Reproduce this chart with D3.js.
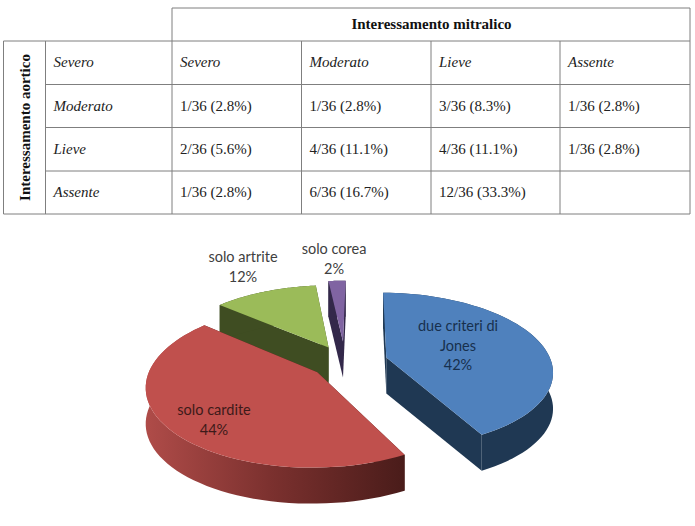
<!DOCTYPE html>
<html lang="it">
<head>
<meta charset="UTF-8">
<title>Interessamento valvolare</title>
<script src="https://d3js.org/d3.v7.min.js"></script>
<style>
    html, body { margin: 0; padding: 0; background: #fff; }
    svg { display: block; }
    .cell { font-family: "Liberation Serif", serif; font-size: 15px; fill: #222; }
    .head { font-weight: bold; fill: #111; }
    .ital { font-style: italic; }
    .pielabel { font-family: Lato, "Noto Sans", sans-serif; font-size: 14.5px; text-anchor: middle; }
</style>
</head>
<body>
<svg id="chart" width="695" height="526"></svg>
<script>
// table
var rowLabels = ["Severo", "Moderato", "Lieve", "Assente"];
var tableRows = [
    ["Severo", "Moderato", "Lieve", "Assente"],
    ["1/36 (2.8%)", "1/36 (2.8%)", "3/36 (8.3%)", "1/36 (2.8%)"],
    ["2/36 (5.6%)", "4/36 (11.1%)", "4/36 (11.1%)", "1/36 (2.8%)"],
    ["1/36 (2.8%)", "6/36 (16.7%)", "12/36 (33.3%)", ""]
];
var colEdges = [3.5, 45.5, 172, 301.5, 431, 560, 690];
var rowEdges = [8, 41, 84.5, 127.5, 171, 214];

// pie
var pieNames = [["due criteri di", "Jones"], ["solo cardite"], ["solo artrite"], ["solo corea"]];
var pieValues = [42, 44, 12, 2];
var pieExplode = [0.26, 0.21, 0.22, 0.28];
var pieTop = ["#4f81bd", "#c0504d", "#9bbb59", "#8064a2"];
var pieSide = ["#1f3853", "#4a1c1a", "#3f4d22", "#33284a"];
var pieText = ["#17304d", "#3d1a19", "#404040", "#404040"];
var labelPos = [[458, 326], [214, 410], [243, 257], [334, 249]];

var svg = d3.select("#chart");

// table lines
var lines = svg.append("g").attr("stroke", "#7f7f7f").attr("stroke-width", 1);
function hline(x1, x2, y) { lines.append("line").attr("x1", x1).attr("x2", x2).attr("y1", y).attr("y2", y); }
function vline(x, y1, y2) { lines.append("line").attr("x1", x).attr("x2", x).attr("y1", y1).attr("y2", y2); }
hline(colEdges[2], colEdges[6], rowEdges[0]);
rowEdges.slice(1).forEach(function(y, i) {
    hline(i == 0 || i == 4 ? colEdges[0] : colEdges[1], colEdges[6], y);
});
colEdges.forEach(function(x, i) {
    vline(x, i == 2 || i == 6 ? rowEdges[0] : rowEdges[1], rowEdges[5]);
});
// the header only spans the value columns
svg.append("text").attr("class", "cell head")
    .attr("x", (colEdges[2] + colEdges[6]) / 2 + 0.5).attr("y", rowEdges[0] + 21)
    .attr("text-anchor", "middle").text("Interessamento mitralico");
svg.append("text").attr("class", "cell head")
    .attr("transform", "translate(" + ((colEdges[0] + colEdges[1]) / 2 + 5) + "," + ((rowEdges[1] + rowEdges[5]) / 2) + ") rotate(-90)")
    .attr("text-anchor", "middle").text("Interessamento aortico");
rowLabels.forEach(function(r, i) {
    svg.append("text").attr("class", "cell ital")
        .attr("x", colEdges[1] + 8).attr("y", rowEdges[i + 1] + 26).text(r);
});
tableRows.forEach(function(row, i) {
    row.forEach(function(v, j) {
        svg.append("text").attr("class", "cell" + (i == 0 ? " ital" : ""))
            .attr("x", colEdges[j + 2] + 8).attr("y", rowEdges[i + 1] + 26).text(v);
    });
});

// pie: d3.pie gives the angles, the project function tilts them into perspective
var turn = Math.PI / 180;
var arcs = d3.pie().sort(null).value(function(d) { return d; })
    .startAngle(turn).endAngle(2 * Math.PI + turn)(pieValues);
var cx = 345, cy = 362, rx = 165, ry = 76.5, persp = 0.16, depth = 36;

function project(X, Z, drop) {
    var s = 1 / (1 + persp * Z);
    return [cx + rx * X * s, cy - ry * Z * s + (drop || 0)];
}
function pointOn(a, ex, ang, r, drop) {
    var mid = (a.startAngle + a.endAngle) / 2;
    return project(ex * Math.sin(mid) + r * Math.sin(ang), ex * Math.cos(mid) + r * Math.cos(ang), drop);
}
function arcPoints(a, ex, drop) {
    return d3.range(0, 61).map(function(i) {
        return pointOn(a, ex, a.startAngle + (a.endAngle - a.startAngle) * i / 60, 1, drop);
    });
}
var line = d3.line();
var defs = svg.append("defs");
var redGrad = defs.append("linearGradient").attr("id", "redWall")
    .attr("gradientUnits", "userSpaceOnUse").attr("x1", 144).attr("x2", 404).attr("y1", 0).attr("y2", 0);
redGrad.append("stop").attr("offset", "0").attr("stop-color", "#b04c49");
redGrad.append("stop").attr("offset", "0.5").attr("stop-color", "#7a302e");
redGrad.append("stop").attr("offset", "1").attr("stop-color", "#4a1c1a");

// back slices first so the big ones cover them
var drawOrder = [2, 3, 1, 0];
var pieG = svg.append("g");
drawOrder.forEach(function(i) {
    var a = arcs[i], ex = pieExplode[i];
    var apex = pointOn(a, ex, 0, 0, 0), apexLow = pointOn(a, ex, 0, 0, depth);
    var sideFill = i == 1 ? "url(#redWall)" : pieSide[i];
    [a.startAngle, a.endAngle].forEach(function(ang) {
        pieG.append("path").attr("fill", pieSide[i])
            .attr("d", line([apex, pointOn(a, ex, ang, 1, 0), pointOn(a, ex, ang, 1, depth), apexLow]) + "Z");
    });
    pieG.append("path").attr("fill", sideFill)
        .attr("d", line(arcPoints(a, ex, 0).concat(arcPoints(a, ex, depth).reverse())) + "Z");
    pieG.append("path").attr("fill", pieTop[i])
        .attr("d", line([apex].concat(arcPoints(a, ex, 0))) + "Z");
});

arcs.forEach(function(a, i) {
    var names = pieNames[i].concat([pieValues[i] + "%"]);
    names.forEach(function(t, k) {
        svg.append("text").attr("class", "pielabel").attr("fill", pieText[i])
            .attr("x", labelPos[i][0]).attr("y", labelPos[i][1] + k * 19.5 + 5).text(t);
    });
});
</script>
</body>
</html>
